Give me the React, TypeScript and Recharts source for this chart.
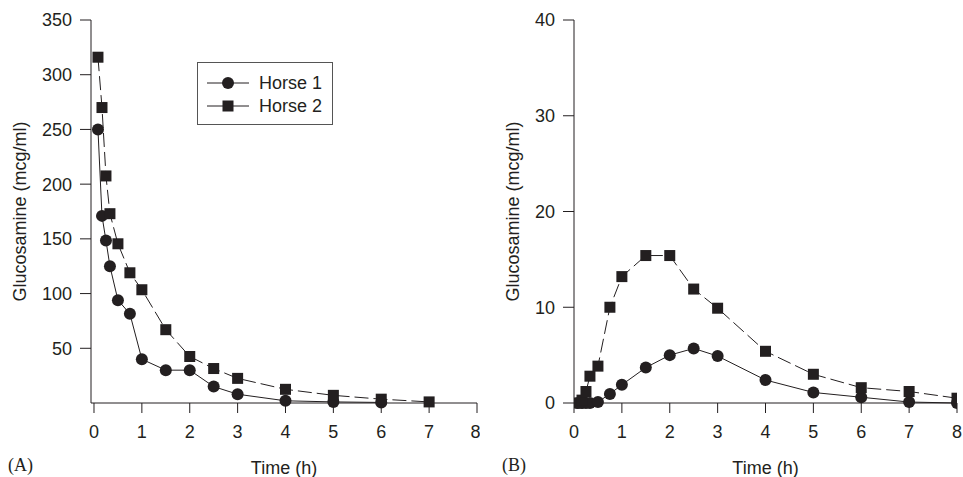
import { LineChart, Line, XAxis, YAxis, Legend } from "recharts";

const times = [0.083, 0.167, 0.25, 0.333, 0.5, 0.75, 1, 1.5, 2, 2.5, 3, 4, 5, 6, 7, 8];
const xTicks = [0, 1, 2, 3, 4, 5, 6, 7, 8];

// panel A
const horse1A = [250, 171, 148.5, 125, 94, 81.5, 40, 30, 30, 15, 8, 2, 1, 0.5, null, null];
const horse2A = [316, 270, 207.5, 173, 145.5, 119, 103.5, 67, 42.5, 31.5, 22.5, 12.5, 7, 3.5, 1, null];
const yTicksA = [50, 100, 150, 200, 250, 300, 350];

// panel B
const horse1B = [0, 0, 0, 0, 0.1, 0.95, 1.9, 3.7, 5.0, 5.7, 4.9, 2.4, 1.1, 0.6, 0.1, 0];
const horse2B = [0, 0.3, 1.2, 2.8, 3.85, 10.0, 13.2, 15.4, 15.4, 11.9, 9.9, 5.4, 3.0, 1.6, 1.2, 0.5];
const yTicksB = [0, 10, 20, 30, 40];

const INK = "#231f20";
const FONT = "'Liberation Sans', Arial, Helvetica, sans-serif";
const tickStyle = { fill: INK, fontSize: 18, fontFamily: FONT };

const rowsA = times.map((t, i) => ({ t, h1: horse1A[i], h2: horse2A[i] }));
const rowsB = times.map((t, i) => ({ t, h1: horse1B[i], h2: horse2B[i] }));

const squareDot = (p: any) => {
  if (p.cx == null || p.cy == null || p.value == null) return <g key={p.index} />;
  return <rect key={p.index} x={p.cx - 5.5} y={p.cy - 5.5} width={11} height={11} fill={INK} />;
};

const LegendBox = () => (
  <div style={{ border: "1px solid #555", width: 134, height: 61, background: "#fff" }}>
    <svg width={134} height={61}>
      <line x1={9} x2={51} y1={20} y2={20} stroke={INK} strokeWidth={1} />
      <circle cx={30} cy={20} r={6} fill={INK} />
      <text x={61} y={20} dy="0.35em" style={tickStyle}>Horse 1</text>
      <line x1={9} x2={51} y1={43} y2={43} stroke={INK} strokeWidth={1} />
      <rect x={24.5} y={37.5} width={11} height={11} fill={INK} />
      <text x={61} y={43} dy="0.35em" style={tickStyle}>Horse 2</text>
    </svg>
  </div>
);

function Panel({ rows, yTicks, yMax, yWidth, xMin, width, labelOffset, legend }: any) {
  return (
    <LineChart width={width} height={477} data={rows} margin={{ top: 20, right: width === 480 ? 3 : 6, left: 0, bottom: 0 }}>
      <XAxis
        dataKey="t"
        type="number"
        domain={[xMin, 8]}
        ticks={xTicks}
        allowDataOverflow
        height={74}
        tickSize={10}
        tickMargin={12}
        tick={tickStyle}
        stroke={INK}
        label={{ value: "Time (h)", position: "insideBottom", offset: 3, style: { ...tickStyle } }}
      />
      <YAxis
        type="number"
        domain={[0, yMax]}
        ticks={yTicks}
        width={yWidth}
        tickSize={11}
        tickMargin={8}
        tick={tickStyle}
        stroke={INK}
        label={{
          value: "Glucosamine (mcg/ml)",
          angle: -90,
          position: "insideLeft",
          offset: labelOffset,
          style: { ...tickStyle, textAnchor: "middle" },
        }}
      />
      {legend && (
        <Legend
          layout="vertical"
          align="center"
          verticalAlign="middle"
          content={() => <LegendBox />}
          wrapperStyle={{ left: 197, top: 62, width: 136, height: 63 }}
        />
      )}
      <Line
        name="Horse 1"
        dataKey="h1"
        stroke={INK}
        strokeWidth={1}
        dot={{ r: 6, fill: INK, stroke: "none" }}
        activeDot={false}
        isAnimationActive={false}
      />
      <Line
        name="Horse 2"
        dataKey="h2"
        stroke={INK}
        strokeWidth={1}
        strokeDasharray="14 5"
        dot={squareDot}
        activeDot={false}
        isAnimationActive={false}
      />
    </LineChart>
  );
}

export default function App() {
  const serif = { position: "absolute" as const, fontFamily: "'Liberation Serif', 'Times New Roman', serif", fontSize: 18, color: INK, lineHeight: "18px" };
  return (
    <div style={{ position: "absolute", left: 0, top: 0, width: 963, height: 477, background: "#fff" }}>
      <div style={{ position: "absolute", left: 0, top: 0 }}>
        <Panel rows={rowsA} yTicks={yTicksA} yMax={350} yWidth={91} xMin={-0.0625} width={480} labelOffset={20} legend />
      </div>
      <div style={{ position: "absolute", left: 480, top: 0 }}>
        <Panel rows={rowsB} yTicks={yTicksB} yMax={40} yWidth={94} xMin={0} width={483} labelOffset={33} />
      </div>
      <span style={{ ...serif, left: 8, top: 456 }}>(A)</span>
      <span style={{ ...serif, left: 502, top: 456 }}>(B)</span>
    </div>
  );
}
